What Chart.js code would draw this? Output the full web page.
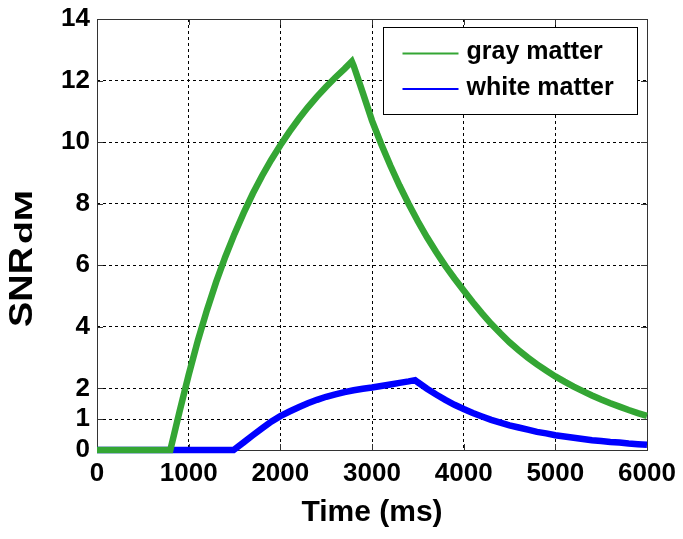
<!DOCTYPE html>
<html>
<head>
<meta charset="utf-8">
<script src="https://cdn.jsdelivr.net/npm/chart.js@4.4.0/dist/chart.umd.min.js"></script>
<style>
  html, body { margin: 0; padding: 0; background: #fff; }
</style>
</head>
<body>
<canvas id="snrChart" width="683" height="539"></canvas>
<script>
// values
const grayTime = [0, 800, 900, 1000, 1100, 1200, 1300, 1400, 1500, 1600, 1700, 1800, 1900, 2000,
  2100, 2200, 2300, 2400, 2500, 2600, 2700, 2780, 2800, 2900, 3000, 3100, 3200, 3300, 3400,
  3500, 3600, 3700, 3800, 3900, 4000, 4100, 4200, 4300, 4400, 4500, 4600, 4700, 4800, 4900,
  5000, 5100, 5200, 5300, 5400, 5500, 5600, 5700, 5800, 5900, 6000];
const graySnr = [0, 0, 1.24, 2.44, 3.55, 4.55, 5.46, 6.28, 7.02, 7.7, 8.33, 8.9, 9.42, 9.9,
  10.34, 10.75, 11.13, 11.48, 11.8, 12.1, 12.38, 12.62, 12.48, 11.6, 10.7, 9.94, 9.24, 8.59, 7.99,
  7.43, 6.91, 6.43, 5.98, 5.57, 5.18, 4.8, 4.44, 4.1, 3.79, 3.5, 3.24, 3.0, 2.78, 2.58,
  2.39, 2.22, 2.06, 1.91, 1.77, 1.64, 1.52, 1.41, 1.3, 1.2, 1.11];

const whiteTime = [0, 1490, 1600, 1700, 1800, 1900, 2000, 2100, 2200, 2300, 2400, 2500, 2600,
  2700, 2800, 2900, 3000, 3100, 3200, 3300, 3400, 3470, 3500, 3600, 3700, 3800, 3900, 4000,
  4100, 4200, 4300, 4400, 4500, 4600, 4700, 4800, 4900, 5000, 5100, 5200, 5300, 5400, 5500,
  5600, 5700, 5800, 5900, 6000];
const whiteSnr = [0, 0, 0.25, 0.48, 0.7, 0.92, 1.1, 1.25, 1.39, 1.52, 1.63, 1.73, 1.81,
  1.88, 1.94, 1.99, 2.03, 2.08, 2.13, 2.18, 2.23, 2.27, 2.2, 1.99, 1.8, 1.63, 1.47, 1.33,
  1.2, 1.09, 0.98, 0.89, 0.8, 0.73, 0.66, 0.59, 0.54, 0.48, 0.44, 0.4, 0.36, 0.32, 0.29,
  0.26, 0.24, 0.21, 0.19, 0.17];

const seriesLabels = ['gray matter', 'white matter'];
const seriesColors = ['#34a634', '#0000ff'];
const xTicks = [0, 1000, 2000, 3000, 4000, 5000, 6000];
const yTicks = [0, 1, 2, 4, 6, 8, 10, 12, 14];
const xTitle = 'Time (ms)';
const yTitle = 'SNR';
const yTitleSub = 'dM';

const FONT = '"Liberation Sans", Arial, sans-serif';

function toPoints(xs, ys) {
  return xs.map((t, i) => ({ x: t, y: ys[i] }));
}

// MATLAB-like box, inward ticks, legend and y label
const matlabLook = {
  id: 'matlabLook',
  beforeDatasetsDraw(chart) {
    const { ctx, chartArea: a, scales: { x, y } } = chart;
    ctx.save();
    ctx.setLineDash([]);
    ctx.strokeStyle = '#333';
    ctx.lineWidth = 1;
    ctx.strokeRect(Math.round(a.left) + 0.5, Math.round(a.top) + 0.5,
      Math.round(a.right - a.left), Math.round(a.bottom - a.top));
    ctx.beginPath();
    xTicks.forEach(v => {
      const px = Math.round(x.getPixelForValue(v)) + 0.5;
      ctx.moveTo(px, a.bottom); ctx.lineTo(px, a.bottom - 6);
      ctx.moveTo(px, a.top); ctx.lineTo(px, a.top + 6);
    });
    yTicks.forEach(v => {
      const py = Math.round(y.getPixelForValue(v)) + 0.5;
      ctx.moveTo(a.left, py); ctx.lineTo(a.left + 6, py);
      ctx.moveTo(a.right, py); ctx.lineTo(a.right - 6, py);
    });
    ctx.stroke();
    ctx.restore();
  },
  afterDraw(chart) {
    const { ctx, chartArea: a } = chart;
    ctx.save();

    // legend
    const bx = Math.round(a.right - 264) + 0.5, by = Math.round(a.top + 8) + 0.5;
    const bw = 254, bh = 87;
    ctx.fillStyle = '#fff';
    ctx.fillRect(bx, by, bw, bh);
    ctx.strokeStyle = '#000';
    ctx.lineWidth = 1;
    ctx.strokeRect(bx, by, bw, bh);
    ctx.font = 'bold 25px ' + FONT;
    ctx.textBaseline = 'middle';
    ctx.textAlign = 'left';
    chart.data.datasets.forEach((ds, i) => {
      const ly = by + 26 + i * 35.6;
      ctx.strokeStyle = ds.borderColor;
      ctx.lineWidth = 2;
      ctx.beginPath();
      ctx.moveTo(bx + 19, ly); ctx.lineTo(bx + 75, ly);
      ctx.stroke();
      ctx.fillStyle = '#000';
      ctx.fillText(ds.label, bx + 83, ly - 1);
    });

    // y title with subscript, rotated
    ctx.translate(32, 327);
    ctx.rotate(-Math.PI / 2);
    ctx.textBaseline = 'alphabetic';
    ctx.fillStyle = '#000';
    ctx.font = 'bold 33px ' + FONT;
    const w1 = ctx.measureText(yTitle).width;
    ctx.save();
    ctx.scale(80 / w1, 1);
    ctx.fillText(yTitle, 0, 0);
    ctx.restore();
    ctx.font = 'bold 23px ' + FONT;
    const w2 = ctx.measureText(yTitleSub).width;
    ctx.save();
    ctx.translate(83, 0);
    ctx.scale(54 / w2, 1);
    ctx.fillText(yTitleSub, 0, 0);
    ctx.restore();

    ctx.restore();
  }
};

const ctx = document.getElementById('snrChart').getContext('2d');
new Chart(ctx, {
  type: 'line',
  data: {
    datasets: [
      {
        label: seriesLabels[0],
        data: toPoints(grayTime, graySnr),
        borderColor: seriesColors[0],
        borderWidth: 6.5,
        pointRadius: 0,
        tension: 0,
        clip: false,
      },
      {
        label: seriesLabels[1],
        data: toPoints(whiteTime, whiteSnr),
        borderColor: seriesColors[1],
        borderWidth: 6.5,
        pointRadius: 0,
        tension: 0,
        clip: false,
      },
    ],
  },
  options: {
    responsive: false,
    animation: false,
    devicePixelRatio: 1,
    layout: { padding: { left: 0, right: 36, top: 19, bottom: 0 } },
    plugins: {
      legend: { display: false },
      tooltip: { enabled: false },
    },
    scales: {
      x: {
        type: 'linear',
        min: 0,
        max: 6000,
        afterBuildTicks: s => { s.ticks = xTicks.map(v => ({ value: v })); },
        afterFit: s => { s.height = 89; s.paddingLeft = 0; s.paddingRight = 0; },
        ticks: {
          color: '#000',
          font: { family: FONT, size: 26, weight: 'bold' },
          padding: 8,
          maxRotation: 0,
          autoSkip: false,
          callback: v => String(v),
        },
        grid: { color: '#000', lineWidth: 1, drawTicks: false },
        border: { display: false, dash: [3, 3] },
        title: {
          display: true,
          text: xTitle,
          color: '#000',
          font: { family: FONT, size: 30, weight: 'bold' },
          padding: { top: 0, bottom: 8 },
        },
      },
      y: {
        min: 0,
        max: 14,
        afterBuildTicks: s => { s.ticks = yTicks.map(v => ({ value: v })); },
        afterFit: s => { s.width = 97; s.paddingTop = 0; s.paddingBottom = 0; },
        ticks: {
          color: '#000',
          font: { family: FONT, size: 26, weight: 'bold' },
          padding: 7,
          autoSkip: false,
        },
        grid: { color: '#000', lineWidth: 1, drawTicks: false },
        border: { display: false, dash: [3, 3] },
      },
    },
  },
  plugins: [matlabLook],
});
</script>
</body>
</html>
